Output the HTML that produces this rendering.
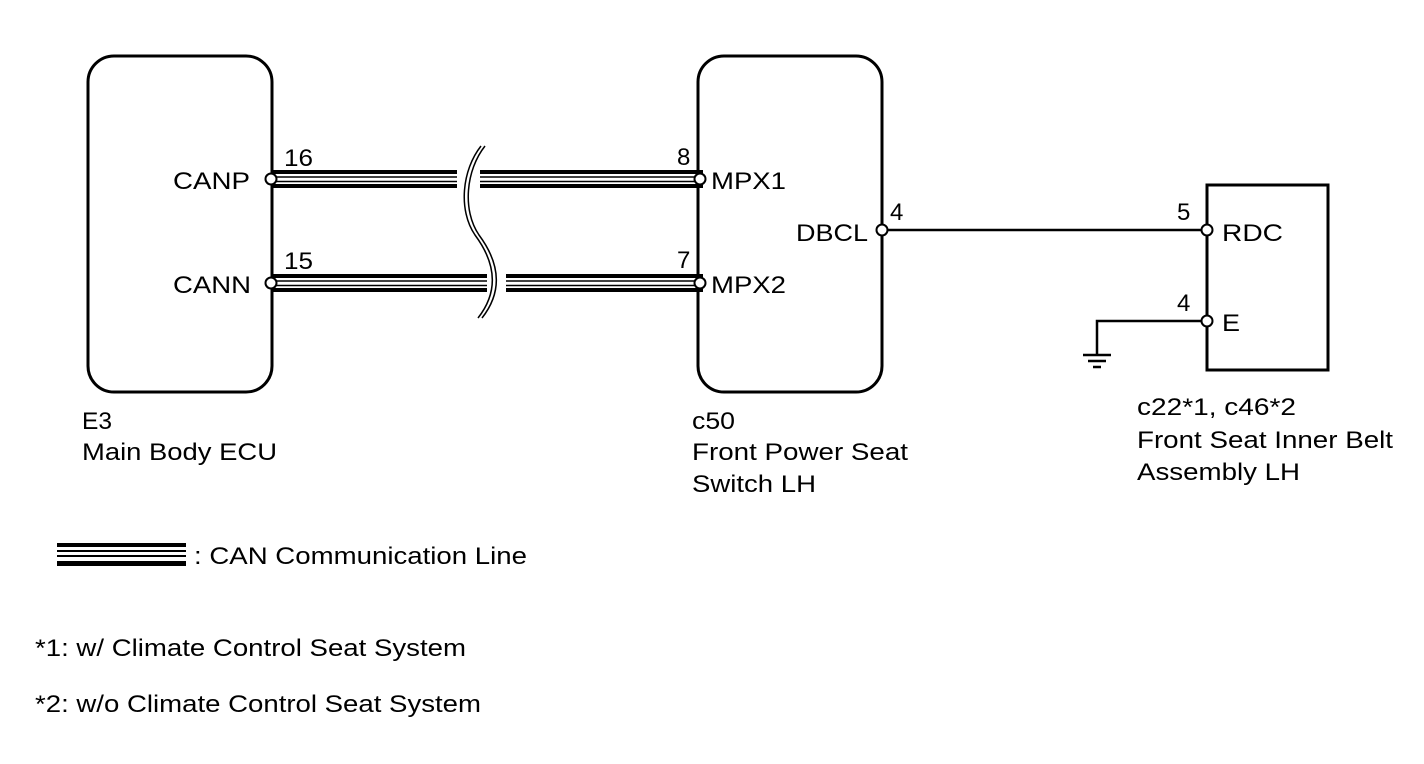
<!DOCTYPE html>
<html><head><style>
body{margin:0;background:#fff}
svg text{font-family:"Liberation Sans",Arial,sans-serif;font-size:24px;fill:#000}
</style></head><body>
<svg width="1424" height="759" viewBox="0 0 1424 759" xmlns="http://www.w3.org/2000/svg">
<g fill="none" stroke="#000" stroke-width="3">
<rect x="88" y="56" width="184" height="336" rx="26"/>
<rect x="698" y="56" width="184" height="336" rx="26"/>
<rect x="1207" y="185" width="121" height="185"/>
</g>
<g stroke="#000">
<g stroke-width="4"><line x1="271" y1="172" x2="457" y2="172"/><line x1="480" y1="172" x2="703" y2="172"/>
<line x1="271" y1="186" x2="457" y2="186"/><line x1="480" y1="186" x2="703" y2="186"/>
<line x1="271" y1="276" x2="487" y2="276"/><line x1="506" y1="276" x2="703" y2="276"/>
<line x1="271" y1="290" x2="487" y2="290"/><line x1="506" y1="290" x2="703" y2="290"/></g>
<g stroke-width="1.5"><line x1="271" y1="177" x2="457" y2="177"/><line x1="480" y1="177" x2="703" y2="177"/>
<line x1="271" y1="181.5" x2="457" y2="181.5"/><line x1="480" y1="181.5" x2="703" y2="181.5"/>
<line x1="271" y1="281" x2="487" y2="281"/><line x1="506" y1="281" x2="703" y2="281"/>
<line x1="271" y1="285.5" x2="487" y2="285.5"/><line x1="506" y1="285.5" x2="703" y2="285.5"/></g>
</g>
<g fill="none" stroke="#000" stroke-width="1.5">
<path d="M481,146 C462,170 458,210 475,235 C495,262 500,290 478,318"/>
<path d="M485,146 C466,170 462,210 479,235 C499,262 504,290 482,318"/>
</g>
<g stroke="#000" stroke-width="2.5" fill="none">
<line x1="882" y1="230" x2="1207" y2="230"/>
<polyline points="1207,321 1097,321 1097,354"/>
</g>
<g stroke="#000" stroke-width="2.5">
<line x1="1083" y1="355" x2="1111" y2="355"/>
<line x1="1088" y1="361" x2="1106" y2="361"/>
<line x1="1093" y1="367" x2="1101" y2="367"/>
</g>
<g fill="#fff" stroke="#000" stroke-width="2">
<circle cx="271" cy="179" r="5.5"/><circle cx="271" cy="283" r="5.5"/>
<circle cx="700" cy="179" r="5.5"/><circle cx="700" cy="283" r="5.5"/>
<circle cx="882" cy="230" r="5.5"/><circle cx="1207" cy="230" r="5.5"/><circle cx="1207" cy="321" r="5.5"/>
</g>
<g lengthAdjust="spacingAndGlyphs">
<text x="173" y="189" textLength="77" lengthAdjust="spacingAndGlyphs">CANP</text>
<text x="173" y="293" textLength="78" lengthAdjust="spacingAndGlyphs">CANN</text>
<text x="284" y="166" textLength="29" lengthAdjust="spacingAndGlyphs">16</text>
<text x="284" y="269" textLength="29" lengthAdjust="spacingAndGlyphs">15</text>
<text x="677" y="165">8</text>
<text x="677" y="268">7</text>
<text x="711" y="189" textLength="75" lengthAdjust="spacingAndGlyphs">MPX1</text>
<text x="711" y="293" textLength="75" lengthAdjust="spacingAndGlyphs">MPX2</text>
<text x="796" y="241" textLength="72" lengthAdjust="spacingAndGlyphs">DBCL</text>
<text x="890" y="220">4</text>
<text x="1177" y="220">5</text>
<text x="1177" y="311">4</text>
<text x="1222" y="241" textLength="61" lengthAdjust="spacingAndGlyphs">RDC</text>
<text x="1222" y="331" textLength="18" lengthAdjust="spacingAndGlyphs">E</text>
<text x="82" y="429" textLength="30" lengthAdjust="spacingAndGlyphs">E3</text>
<text x="82" y="460" textLength="195" lengthAdjust="spacingAndGlyphs">Main Body ECU</text>
<text x="692" y="429" textLength="43" lengthAdjust="spacingAndGlyphs">c50</text>
<text x="692" y="460" textLength="216" lengthAdjust="spacingAndGlyphs">Front Power Seat</text>
<text x="692" y="492" textLength="124" lengthAdjust="spacingAndGlyphs">Switch LH</text>
<text x="1137" y="415" textLength="159" lengthAdjust="spacingAndGlyphs">c22*1, c46*2</text>
<text x="1137" y="448" textLength="256" lengthAdjust="spacingAndGlyphs">Front Seat Inner Belt</text>
<text x="1137" y="480" textLength="163" lengthAdjust="spacingAndGlyphs">Assembly LH</text>
<text x="194" y="564" textLength="333" lengthAdjust="spacingAndGlyphs">: CAN Communication Line</text>
<text x="35" y="656" textLength="431" lengthAdjust="spacingAndGlyphs">*1: w/ Climate Control Seat System</text>
<text x="35" y="712" textLength="446" lengthAdjust="spacingAndGlyphs">*2: w/o Climate Control Seat System</text>
</g>
<g fill="#000"><rect x="57" y="543" width="129" height="4"/><rect x="57" y="550" width="129" height="2"/><rect x="57" y="555" width="129" height="2"/><rect x="57" y="561" width="129" height="5"/></g>
</svg>
</body></html>
